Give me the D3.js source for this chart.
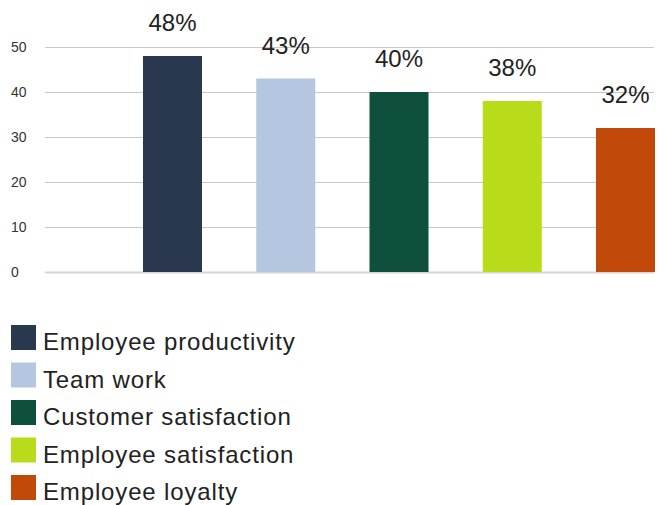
<!DOCTYPE html>
<html>
<head>
<meta charset="utf-8">
<script src="https://cdn.jsdelivr.net/npm/d3@7/dist/d3.min.js"></script>
<style>
  body { margin: 0; background: #fff; }
  svg text { font-family: "Liberation Sans", Arial, sans-serif; }
</style>
</head>
<body>
<svg id="chart" width="665" height="505"></svg>
<script>
// chart data
const categories = ["Employee productivity", "Team work", "Customer satisfaction", "Employee satisfaction", "Employee loyalty"];
const values = [48, 43, 40, 38, 32];
const colors = ["#29374f", "#b4c6e0", "#0f4f3e", "#b8dc1a", "#c14a0b"];
const yTicks = [0, 10, 20, 30, 40, 50];

const svg = d3.select("#chart");

// scales
const y = d3.scaleLinear().domain([0, 50]).range([272, 47]);
const x = d3.scaleBand()
  .domain(categories)
  .range([143, 655])
  .paddingInner(0.479)
  .paddingOuter(0);

// gridlines
const grid = svg.append("g").attr("class", "grid");
grid.selectAll("line")
  .data(yTicks)
  .join("line")
  .attr("x1", 45)
  .attr("x2", 654)
  .attr("y1", (d) => Math.round(y(d)) + 0.5)
  .attr("y2", (d) => Math.round(y(d)) + 0.5)
  .attr("stroke", (d) => (d === 0 ? "#d6d6d6" : "#c8c8c8"))
  .attr("stroke-width", (d) => (d === 0 ? 2 : 1));

// y tick labels
svg.append("g")
  .selectAll("text")
  .data(yTicks)
  .join("text")
  .attr("x", 11)
  .attr("y", (d) => y(d))
  .attr("dy", "0.35em")
  .attr("font-size", 14)
  .attr("fill", "#333")
  .text((d) => d);

// bars
svg.append("g")
  .selectAll("rect")
  .data(values)
  .join("rect")
  .attr("x", (d, i) => x(categories[i]))
  .attr("y", (d) => y(d))
  .attr("width", x.bandwidth())
  .attr("height", (d) => y(0) - y(d))
  .attr("fill", (d, i) => colors[i]);

// value labels
svg.append("g")
  .selectAll("text")
  .data(values)
  .join("text")
  .attr("x", (d, i) => x(categories[i]) + x.bandwidth() / 2)
  .attr("y", (d) => y(d) - 25)
  .attr("text-anchor", "middle")
  .attr("font-size", 24)
  .attr("fill", "#222")
  .text((d) => d + "%");

// legend
const legend = svg.append("g")
  .selectAll("g")
  .data(categories)
  .join("g")
  .attr("transform", (d, i) => `translate(11,${325 + i * 37.5})`);

legend.append("rect")
  .attr("width", 25)
  .attr("height", 25)
  .attr("fill", (d, i) => colors[i]);

legend.append("text")
  .attr("x", 32)
  .attr("y", 25)
  .attr("font-size", 24)
  .attr("letter-spacing", 0.85)
  .attr("fill", "#222")
  .text((d) => d);
</script>
</body>
</html>
